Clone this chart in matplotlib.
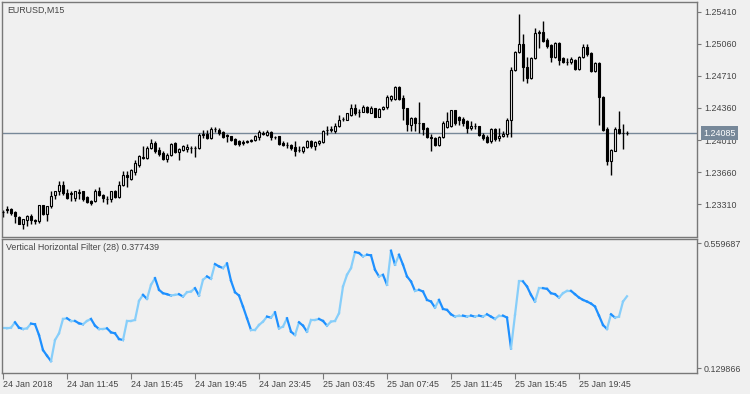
import numpy as np
import matplotlib.pyplot as plt
from matplotlib.collections import LineCollection
from matplotlib.transforms import blended_transform_factory

plt.rcParams['font.family'] = ['Liberation Sans', 'DejaVu Sans']

# EURUSD M15 candles, 24 Jan 2018 07:45 .. 25 Jan 2018 22:45
opens = [
    1.23227, 1.23252, 1.23263, 1.23227, 1.23169, 1.23096, 1.23143, 1.23180, 1.23143, 1.23125,
    1.23306, 1.23198, 1.23288, 1.23408, 1.23459, 1.23524, 1.23433, 1.23422, 1.23379, 1.23440,
    1.23451, 1.23386, 1.23343, 1.23350, 1.23459, 1.23415, 1.23372, 1.23372, 1.23459, 1.23386,
    1.23517, 1.23633, 1.23586, 1.23658, 1.23741, 1.23825, 1.23814, 1.23923, 1.23977, 1.23897,
    1.23868, 1.23803, 1.23850, 1.23977, 1.23876, 1.23897, 1.23912, 1.23923, 1.23926, 1.23923,
    1.24068, 1.24075, 1.24031, 1.24129, 1.24122, 1.24097, 1.24068, 1.24050, 1.24020, 1.23995,
    1.23984, 1.23990, 1.23995, 1.24013, 1.24042, 1.24085, 1.24067, 1.24093, 1.24042, 1.24049,
    1.23977, 1.23958, 1.23958, 1.23933, 1.23904, 1.23886, 1.23933, 1.23995, 1.23940, 1.23977,
    1.23984, 1.24118, 1.24122, 1.24103, 1.24158, 1.24237, 1.24230, 1.24285, 1.24357, 1.24318,
    1.24321, 1.24375, 1.24310, 1.24357, 1.24262, 1.24346, 1.24368, 1.24455, 1.24455, 1.24593,
    1.24466, 1.24357, 1.24176, 1.24248, 1.24201, 1.24194, 1.24140, 1.24042, 1.24031, 1.23958,
    1.24042, 1.24151, 1.24158, 1.24332, 1.24259, 1.24237, 1.24212, 1.24140, 1.24158, 1.24158,
    1.24067, 1.24042, 1.23995, 1.24129, 1.24031, 1.24050, 1.24075, 1.24231, 1.24774, 1.24967,
    1.25053, 1.24811, 1.24691, 1.24901, 1.25173, 1.25191, 1.25101, 1.25046, 1.24919, 1.25064,
    1.24901, 1.24865, 1.24858, 1.24883, 1.24785, 1.24919, 1.25028, 1.24956, 1.24764, 1.24847,
    1.24474, 1.24133, 1.23778, 1.23894, 1.24133, 1.24086, 1.24090]
highs = [
    1.23252, 1.23288, 1.23270, 1.23240, 1.23180, 1.23151, 1.23191, 1.23198, 1.23151, 1.23299,
    1.23306, 1.23288, 1.23451, 1.23459, 1.23567, 1.23567, 1.23471, 1.23451, 1.23459, 1.23480,
    1.23459, 1.23397, 1.23361, 1.23480, 1.23495, 1.23422, 1.23397, 1.23459, 1.23466, 1.23567,
    1.23676, 1.23676, 1.23690, 1.23796, 1.23850, 1.23948, 1.23941, 1.24020, 1.23995, 1.23934,
    1.23886, 1.23868, 1.23977, 1.23984, 1.23923, 1.23959, 1.23970, 1.23941, 1.23941, 1.24086,
    1.24122, 1.24115, 1.24151, 1.24151, 1.24140, 1.24104, 1.24078, 1.24057, 1.24031, 1.24013,
    1.24006, 1.24013, 1.24020, 1.24067, 1.24114, 1.24103, 1.24114, 1.24103, 1.24056, 1.24056,
    1.23995, 1.23984, 1.23969, 1.23995, 1.23940, 1.23948, 1.24006, 1.24006, 1.23995, 1.24013,
    1.24122, 1.24158, 1.24158, 1.24201, 1.24285, 1.24266, 1.24310, 1.24404, 1.24404, 1.24346,
    1.24393, 1.24382, 1.24382, 1.24364, 1.24357, 1.24382, 1.24502, 1.24502, 1.24600, 1.24600,
    1.24502, 1.24357, 1.24266, 1.24266, 1.24430, 1.24201, 1.24147, 1.24078, 1.24042, 1.24056,
    1.24212, 1.24321, 1.24339, 1.24339, 1.24274, 1.24259, 1.24223, 1.24212, 1.24194, 1.24165,
    1.24085, 1.24067, 1.24140, 1.24140, 1.24140, 1.24103, 1.24249, 1.24811, 1.24981, 1.25380,
    1.25162, 1.24919, 1.24919, 1.25235, 1.25209, 1.25307, 1.25119, 1.25053, 1.25075, 1.25075,
    1.24919, 1.24901, 1.24919, 1.24894, 1.24930, 1.25053, 1.25053, 1.24974, 1.24858, 1.24858,
    1.24485, 1.24157, 1.23916, 1.24148, 1.24322, 1.24184, 1.24111]
lows = [
    1.23169, 1.23216, 1.23191, 1.23107, 1.23089, 1.23035, 1.23071, 1.23089, 1.23089, 1.23107,
    1.23191, 1.23132, 1.23270, 1.23372, 1.23408, 1.23408, 1.23372, 1.23350, 1.23350, 1.23372,
    1.23350, 1.23325, 1.23306, 1.23335, 1.23397, 1.23335, 1.23314, 1.23335, 1.23379, 1.23379,
    1.23506, 1.23500, 1.23570, 1.23633, 1.23720, 1.23803, 1.23803, 1.23912, 1.23868, 1.23839,
    1.23796, 1.23767, 1.23832, 1.23868, 1.23796, 1.23886, 1.23876, 1.23868, 1.23825, 1.23912,
    1.24031, 1.24020, 1.24020, 1.24093, 1.24068, 1.24031, 1.23984, 1.23995, 1.23959, 1.23948,
    1.23959, 1.23977, 1.23984, 1.23995, 1.24006, 1.24067, 1.24056, 1.24013, 1.24020, 1.23958,
    1.23940, 1.23922, 1.23904, 1.23839, 1.23875, 1.23868, 1.23922, 1.23922, 1.23897, 1.23958,
    1.23977, 1.24067, 1.24093, 1.24085, 1.24151, 1.24212, 1.24223, 1.24274, 1.24285, 1.24259,
    1.24314, 1.24310, 1.24303, 1.24259, 1.24259, 1.24332, 1.24346, 1.24440, 1.24448, 1.24448,
    1.24230, 1.24103, 1.24103, 1.24103, 1.24085, 1.24067, 1.24031, 1.23886, 1.23948, 1.23948,
    1.24031, 1.24140, 1.24151, 1.24176, 1.24176, 1.24158, 1.24085, 1.24114, 1.24129, 1.24056,
    1.24013, 1.23977, 1.23977, 1.23995, 1.23995, 1.24039, 1.24039, 1.24039, 1.24764, 1.24956,
    1.24655, 1.24630, 1.24677, 1.24894, 1.25017, 1.25082, 1.25010, 1.24858, 1.24909, 1.24829,
    1.24847, 1.24829, 1.24836, 1.24774, 1.24774, 1.24909, 1.24930, 1.24756, 1.24756, 1.24169,
    1.24111, 1.23742, 1.23633, 1.23887, 1.24075, 1.23916, 1.24061]
closes = [
    1.23230, 1.23255, 1.23216, 1.23180, 1.23096, 1.23151, 1.23180, 1.23143, 1.23125, 1.23299,
    1.23205, 1.23288, 1.23397, 1.23451, 1.23524, 1.23433, 1.23379, 1.23433, 1.23451, 1.23433,
    1.23372, 1.23335, 1.23325, 1.23459, 1.23408, 1.23379, 1.23372, 1.23451, 1.23386, 1.23524,
    1.23633, 1.23610, 1.23680, 1.23760, 1.23832, 1.23815, 1.23923, 1.23977, 1.23886, 1.23861,
    1.23803, 1.23850, 1.23970, 1.23876, 1.23912, 1.23941, 1.23934, 1.23926, 1.23923, 1.24068,
    1.24071, 1.24031, 1.24129, 1.24125, 1.24086, 1.24042, 1.24050, 1.24006, 1.23970, 1.23966,
    1.23980, 1.23995, 1.24006, 1.24049, 1.24093, 1.24080, 1.24093, 1.24042, 1.24045, 1.23969,
    1.23958, 1.23960, 1.23922, 1.23886, 1.23900, 1.23933, 1.23995, 1.23940, 1.23984, 1.23995,
    1.24111, 1.24122, 1.24125, 1.24165, 1.24230, 1.24234, 1.24303, 1.24357, 1.24303, 1.24321,
    1.24375, 1.24321, 1.24357, 1.24266, 1.24346, 1.24375, 1.24484, 1.24491, 1.24593, 1.24455,
    1.24357, 1.24187, 1.24248, 1.24201, 1.24198, 1.24129, 1.24042, 1.24031, 1.23958, 1.24042,
    1.24201, 1.24212, 1.24332, 1.24194, 1.24223, 1.24201, 1.24140, 1.24165, 1.24160, 1.24067,
    1.24031, 1.23984, 1.24129, 1.24020, 1.24056, 1.24075, 1.24231, 1.24774, 1.24974, 1.25053,
    1.24811, 1.24691, 1.24901, 1.25173, 1.25191, 1.25090, 1.25039, 1.24919, 1.25064, 1.24883,
    1.24865, 1.24862, 1.24894, 1.24785, 1.24919, 1.25028, 1.24945, 1.24764, 1.24847, 1.24474,
    1.24122, 1.23778, 1.23905, 1.24133, 1.24086, 1.24090, 1.24085]

# Vertical Horizontal Filter (28)
vhf = [
    0.2670, 0.2670, 0.2693, 0.2878, 0.2693, 0.2647, 0.2670, 0.2832, 0.2809, 0.2440,
    0.1922, 0.1726, 0.1542, 0.2267, 0.2498, 0.2993, 0.3016, 0.2924, 0.2924, 0.2843,
    0.2809, 0.2924, 0.2993, 0.2763, 0.2647, 0.2647, 0.2670, 0.2532, 0.2498, 0.2302,
    0.2267, 0.2924, 0.2924, 0.2958, 0.3615, 0.3822, 0.3684, 0.4168, 0.4398, 0.3995,
    0.3880, 0.3845, 0.3799, 0.3822, 0.3845, 0.3764, 0.3914, 0.3937, 0.4052, 0.3799,
    0.4340, 0.4456, 0.4375, 0.4882, 0.4801, 0.4744, 0.4905, 0.4306, 0.3914, 0.3799,
    0.3419, 0.3016, 0.2613, 0.2613, 0.2786, 0.2901, 0.3073, 0.3039, 0.3223, 0.2670,
    0.2728, 0.3016, 0.2555, 0.2440, 0.2878, 0.2763, 0.2555, 0.2958, 0.2958, 0.2993,
    0.2924, 0.2763, 0.2901, 0.2924, 0.3189, 0.4110, 0.4513, 0.4744, 0.5296, 0.5262,
    0.5147, 0.5204, 0.5181, 0.4686, 0.4456, 0.4513, 0.4168, 0.5342, 0.4859, 0.5204,
    0.4859, 0.4456, 0.4283, 0.3960, 0.3995, 0.3937, 0.3649, 0.3592, 0.3384, 0.3649,
    0.3338, 0.3304, 0.3154, 0.3073, 0.3108, 0.3108, 0.3073, 0.3108, 0.3073, 0.3108,
    0.3073, 0.3154, 0.3073, 0.2993, 0.3108, 0.3108, 0.3039, 0.1979, 0.3131, 0.4283,
    0.4283, 0.4110, 0.3822, 0.3592, 0.4052, 0.4052, 0.4029, 0.3880, 0.3845, 0.3730,
    0.3880, 0.3960, 0.3960, 0.3845, 0.3730, 0.3649, 0.3592, 0.3523, 0.3419, 0.3108,
    0.2786, 0.2647, 0.3154, 0.3039, 0.3073, 0.3592, 0.3774]

price_ticks = [1.23310, 1.23660, 1.24010, 1.24360, 1.24710, 1.25060, 1.25410]
vhf_ticks = [0.129866, 0.559687]
time_ticks = [0, 16, 32, 48, 64, 80, 96, 112, 128, 144]
time_labels = ["24 Jan 2018", "24 Jan 11:45", "24 Jan 15:45", "24 Jan 19:45",
               "24 Jan 23:45", "25 Jan 03:45", "25 Jan 07:45", "25 Jan 11:45",
               "25 Jan 15:45", "25 Jan 19:45"]
last_price = 1.24085
vhf_last = "0.377439"

BG = "#f0f0f0"
FRAME = "#787878"
TEXT = "#454545"
PRICE_LINE = "#778899"
DARK = "#1e90ff"
LIGHT = "#87cefa"
FS = 6.4

W, H = 750, 394


def px_box(left, top, right, bottom):
    return [left / W, 1 - bottom / H, (right - left) / W, (bottom - top) / H]


fig = plt.figure(figsize=(W / 100, H / 100), dpi=100, facecolor=BG)
ax = fig.add_axes(px_box(2, 2, 697, 236.5))
ax2 = fig.add_axes(px_box(2, 239, 697, 372.5))

for a in (ax, ax2):
    a.set_facecolor(BG)
    for s in a.spines.values():
        s.set_color(FRAME)
        s.set_linewidth(1)
    a.yaxis.tick_right()
    a.tick_params(axis="y", direction="out", length=3, width=0.8, color=FRAME,
                  labelsize=FS, labelcolor=TEXT, pad=2)
    a.set_xlim(-0.25, 173.5)

# candles
x = np.arange(len(closes))
o = np.array(opens)
h = np.array(highs)
l = np.array(lows)
c = np.array(closes)
up = c >= o
ax.vlines(x, l, h, color="black", lw=1, zorder=2)
ax.bar(x[up], (c - o)[up], bottom=o[up], width=0.6, facecolor=BG,
       edgecolor="black", linewidth=0.8, zorder=3)
ax.bar(x[~up], (o - c)[~up], bottom=c[~up], width=0.6, facecolor="black",
       edgecolor="black", linewidth=0.8, zorder=3)

ax.axhline(last_price, color=PRICE_LINE, lw=1, zorder=1)
ax.set_ylim(1.22958, 1.25515)
ax.set_yticks(price_ticks)
ax.set_yticklabels(["%.5f" % p for p in price_ticks])
ax.set_xticks([])

trans = blended_transform_factory(ax.transAxes, ax.transData)
ax.text(1.0086, last_price, "%.5f" % last_price, transform=trans, ha="left",
        va="center", fontsize=FS, color="white", zorder=5, clip_on=False,
        bbox=dict(boxstyle="square,pad=0.25", fc=PRICE_LINE, ec="none"))

# indicator pane, coloured by direction of each step
v = np.array(vhf)
pts = np.column_stack([x, v])
segs = np.stack([pts[:-1], pts[1:]], axis=1)
colors = np.where(np.diff(v) >= 0, LIGHT, DARK)
ax2.add_collection(LineCollection(segs, colors=colors, linewidths=1.6,
                                  capstyle="projecting"))
ax2.set_ylim(0.115, 0.5745)
ax2.set_yticks(vhf_ticks)
ax2.set_yticklabels(["%.6f" % t for t in vhf_ticks])

ax2.set_xticks(time_ticks)
ax2.set_xticklabels(time_labels)
ax2.tick_params(axis="x", direction="out", length=4, width=0.8, color=FRAME,
                labelsize=FS, labelcolor=TEXT, pad=1.5)
for lbl in ax2.get_xticklabels():
    lbl.set_horizontalalignment("left")

fig.text(7 / W, 1 - 10 / H, "EURUSD,M15", ha="left", va="center",
         fontsize=FS, color=TEXT)
fig.text(6 / W, 1 - 248 / H, "Vertical Horizontal Filter (28) " + vhf_last,
         ha="left", va="center", fontsize=FS, color=TEXT)

fig.savefig("out.png", dpi=100, facecolor=BG)
